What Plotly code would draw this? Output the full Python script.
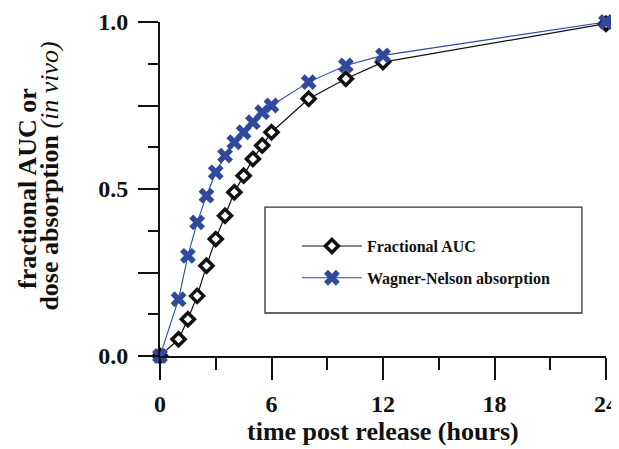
import plotly.graph_objects as go

# Data
time_h = [0, 1, 1.5, 2, 2.5, 3, 3.5, 4, 4.5, 5, 5.5, 6, 8, 10, 12, 24]
fractional_auc = [0, 0.05, 0.11, 0.18, 0.27, 0.35, 0.42, 0.49, 0.54, 0.59, 0.63, 0.67, 0.77, 0.83, 0.88, 0.995]
wagner_nelson = [0, 0.17, 0.30, 0.40, 0.48, 0.55, 0.60, 0.64, 0.67, 0.70, 0.73, 0.75, 0.82, 0.87, 0.90, 1.0]

x_tickvals = [0, 6, 12, 18, 24]
x_ticktext = ["0", "6", "12", "18", "24"]
y_tickvals = [0, 0.25, 0.5, 0.75, 1.0]
y_ticktext = ["0.0", "", "0.5", "", "1.0"]

x_title = "<b>time post release (hours)</b>"
y_title_line1 = "<b>fractional AUC or</b>"
y_title_line2 = "<b>dose absorption&nbsp;</b><i>(in vivo)</i>"

FONT = "Liberation Serif"
BLUE = "#2f4a9c"
INK = "#111111"

fig = go.Figure()
fig.add_trace(go.Scatter(
    x=time_h, y=fractional_auc, mode="lines+markers", name="<b>Fractional AUC</b>",
    legendgroup="a",
    line=dict(color=INK, width=1.2),
    marker=dict(symbol="diamond", size=10, color="white", line=dict(color=INK, width=3.5)),
    cliponaxis=False,
))
fig.add_trace(go.Scatter(
    x=time_h, y=wagner_nelson, mode="lines+markers", name="<b>Wagner-Nelson absorption</b>",
    legendgroup="b",
    line=dict(color=BLUE, width=1.1),
    marker=dict(symbol="x", size=14, color=BLUE, line=dict(width=0)),
    cliponaxis=False,
))

# The page body adds an 8px offset, so the figure is 8px smaller than the window
fig.update_layout(
    width=611, height=441,
    margin=dict(l=152, r=13, t=14, b=93, autoexpand=False),
    paper_bgcolor="white", plot_bgcolor="white",
    font=dict(family=FONT, color=INK),
    showlegend=True,
    legend=dict(
        x=0.307, y=0.380, xanchor="left", yanchor="top",
        bgcolor="rgba(0,0,0,0)", borderwidth=0,
        font=dict(family=FONT, size=16, color=INK),
        tracegroupgap=8, itemwidth=60,
    ),
    shapes=[dict(
        type="rect", xref="paper", yref="paper",
        x0=0.2354, x1=0.946, y0=0.1287, y1=0.446,
        line=dict(color="#333333", width=1.3), fillcolor="rgba(0,0,0,0)",
        layer="below",
    )],
    annotations=[
        dict(text=x_title, xref="paper", yref="paper", x=0.5, y=-0.2246,
             xanchor="center", yanchor="middle", showarrow=False,
             font=dict(family=FONT, size=26, color=INK)),
        dict(text=y_title_line1, xref="paper", yref="paper", x=-0.2982, y=0.5,
             xanchor="center", yanchor="middle", showarrow=False, textangle=-90,
             font=dict(family=FONT, size=26, color=INK)),
        dict(text=y_title_line2, xref="paper", yref="paper", x=-0.2467, y=0.540,
             xanchor="center", yanchor="middle", showarrow=False, textangle=-90,
             font=dict(family=FONT, size=26, color=INK)),
    ],
)

fig.update_xaxes(
    range=[0, 24], showgrid=False, zeroline=False, automargin=False,
    showline=True, linecolor=INK, linewidth=2,
    tickmode="array", tickvals=x_tickvals, ticktext=x_ticktext,
    ticks="outside", ticklen=22, tickwidth=2, tickcolor=INK,
    minor=dict(tickmode="linear", tick0=0, dtick=3, ticks="outside", ticklen=12, tickwidth=2, tickcolor=INK, showgrid=False),
    tickfont=dict(family=FONT, size=24, weight="bold"),
    ticklabelstandoff=3,
)
fig.update_yaxes(
    range=[0, 1], showgrid=False, zeroline=False, automargin=False,
    showline=True, linecolor=INK, linewidth=2,
    tickmode="array", tickvals=y_tickvals, ticktext=y_ticktext,
    ticks="outside", ticklen=20, tickwidth=2, tickcolor=INK,
    minor=dict(tickmode="linear", tick0=0, dtick=0.125, ticks="outside", ticklen=10, tickwidth=2, tickcolor=INK, showgrid=False),
    tickfont=dict(family=FONT, size=24, weight="bold"),
    ticklabelstandoff=5,
)

fig.write_html("out.html")
